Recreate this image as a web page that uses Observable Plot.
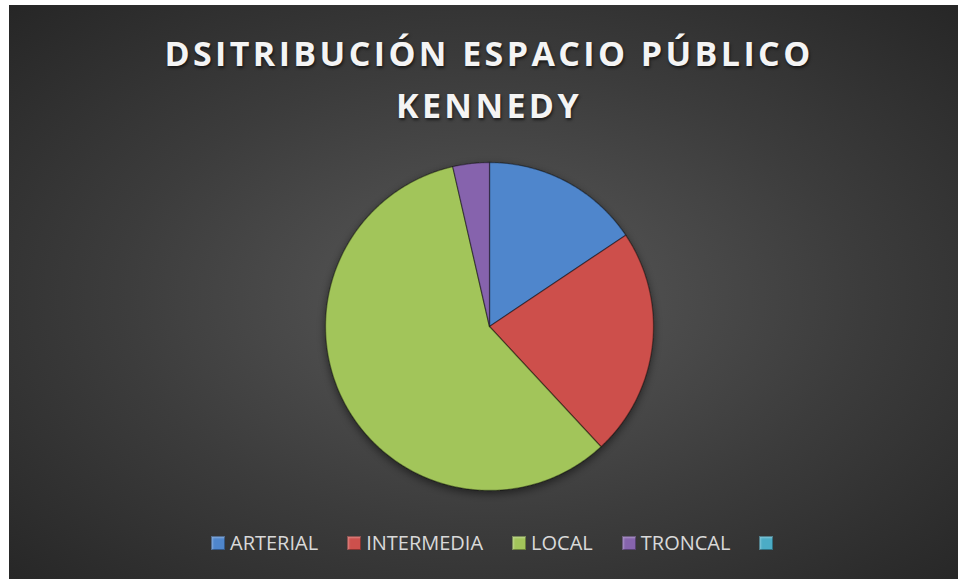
<!DOCTYPE html>
<html>
<head>
<meta charset="utf-8">
<script src="https://cdn.jsdelivr.net/npm/d3@7"></script>
<script src="https://cdn.jsdelivr.net/npm/@observablehq/plot@0.6"></script>
<style>
  html, body { margin: 0; padding: 0; background: #ffffff; overflow: hidden; width: 958px; height: 579px; }
  #chart {
    position: absolute; left: 9px; top: 5px; width: 960px; height: 585px;
    background: radial-gradient(ellipse farthest-corner at 50% 50%, #5a5a5a 0%, #3c3c3c 55%, #262626 100%);
    font-family: "Open Sans", sans-serif;
  }
  #title {
    position: absolute; left: 0; width: 960px; top: 22px; text-align: center;
    color: #f4f4f4; font-weight: 700; font-size: 34px; line-height: 52px; letter-spacing: 3.4px;
    text-shadow: 1px 2px 3px rgba(0,0,0,0.6);
  }
  #pie { position: absolute; left: 310px; top: 151px; }
  #legend {
    position: absolute; top: 524px; left: 202px; display: flex; align-items: center;
    color: #d9d9d9; font-size: 20px;
  }
  .item { display: flex; align-items: center; margin-right: 29px; }
  .sw { width: 14px; height: 14px; margin-right: 5px; box-shadow: inset 0 0 0 1px rgba(0,0,0,0.35), inset 2px 2px 2px rgba(255,255,255,0.3); }
</style>
</head>
<body>
<div id="chart">
  <div id="title">DSITRIBUCIÓN ESPACIO PÚBLICO<br>KENNEDY</div>
  <div id="pie"></div>
  <div id="legend"></div>
</div>
<script>
const categories = ["ARTERIAL", "INTERMEDIA", "LOCAL", "TRONCAL", " "];
const values = [15.6, 22.5, 58.3, 3.6, 0];
const colors = ["#4f86cc", "#cd504c", "#a2c55a", "#8664ad", "#4bacc6"];

// slices from d3.pie (clockwise from top), sampled into closed polygons
const arcs = d3.pie().sort(null).value(d => d.v)(categories.map((c, i) => ({c, v: values[i]})));
const pts = [];
arcs.forEach(a => {
  if (a.data.v <= 0) return;
  const n = Math.max(4, Math.ceil((a.endAngle - a.startAngle) / 0.01));
  pts.push({cat: a.data.c, x: 0, y: 0});
  for (let k = 0; k <= n; k++) {
    const t = a.startAngle + (a.endAngle - a.startAngle) * k / n;
    pts.push({cat: a.data.c, x: Math.sin(t), y: Math.cos(t)});
  }
});

const size = 340;
const plot = Plot.plot({
  width: size, height: size, margin: 6,
  x: {domain: [-1, 1], axis: null},
  y: {domain: [-1, 1], axis: null},
  color: {domain: categories, range: colors},
  style: {background: "transparent", overflow: "visible"},
  marks: [
    Plot.line(pts, {x: "x", y: "y", z: "cat", fill: "cat", stroke: "rgba(0,0,0,0.4)", strokeWidth: 1.3, curve: "linear-closed"})
  ]
});
document.getElementById("pie").appendChild(plot);

// soft drop shadow under the pie
const svg = d3.select(plot);
const defs = svg.insert("defs", ":first-child");
const sh = defs.append("filter").attr("id", "shadow").attr("x", "-20%").attr("y", "-20%").attr("width", "140%").attr("height", "140%");
sh.append("feDropShadow").attr("dx", 0).attr("dy", 3).attr("stdDeviation", 4).attr("flood-color", "#000").attr("flood-opacity", 0.5);
svg.select("g[aria-label='line']").attr("filter", "url(#shadow)");

// legend
const lg = d3.select("#legend");
categories.forEach((c, i) => {
  const it = lg.append("div").attr("class", "item");
  it.append("div").attr("class", "sw").style("background", colors[i]);
  it.append("span").text(c);
});
</script>
</body>
</html>
